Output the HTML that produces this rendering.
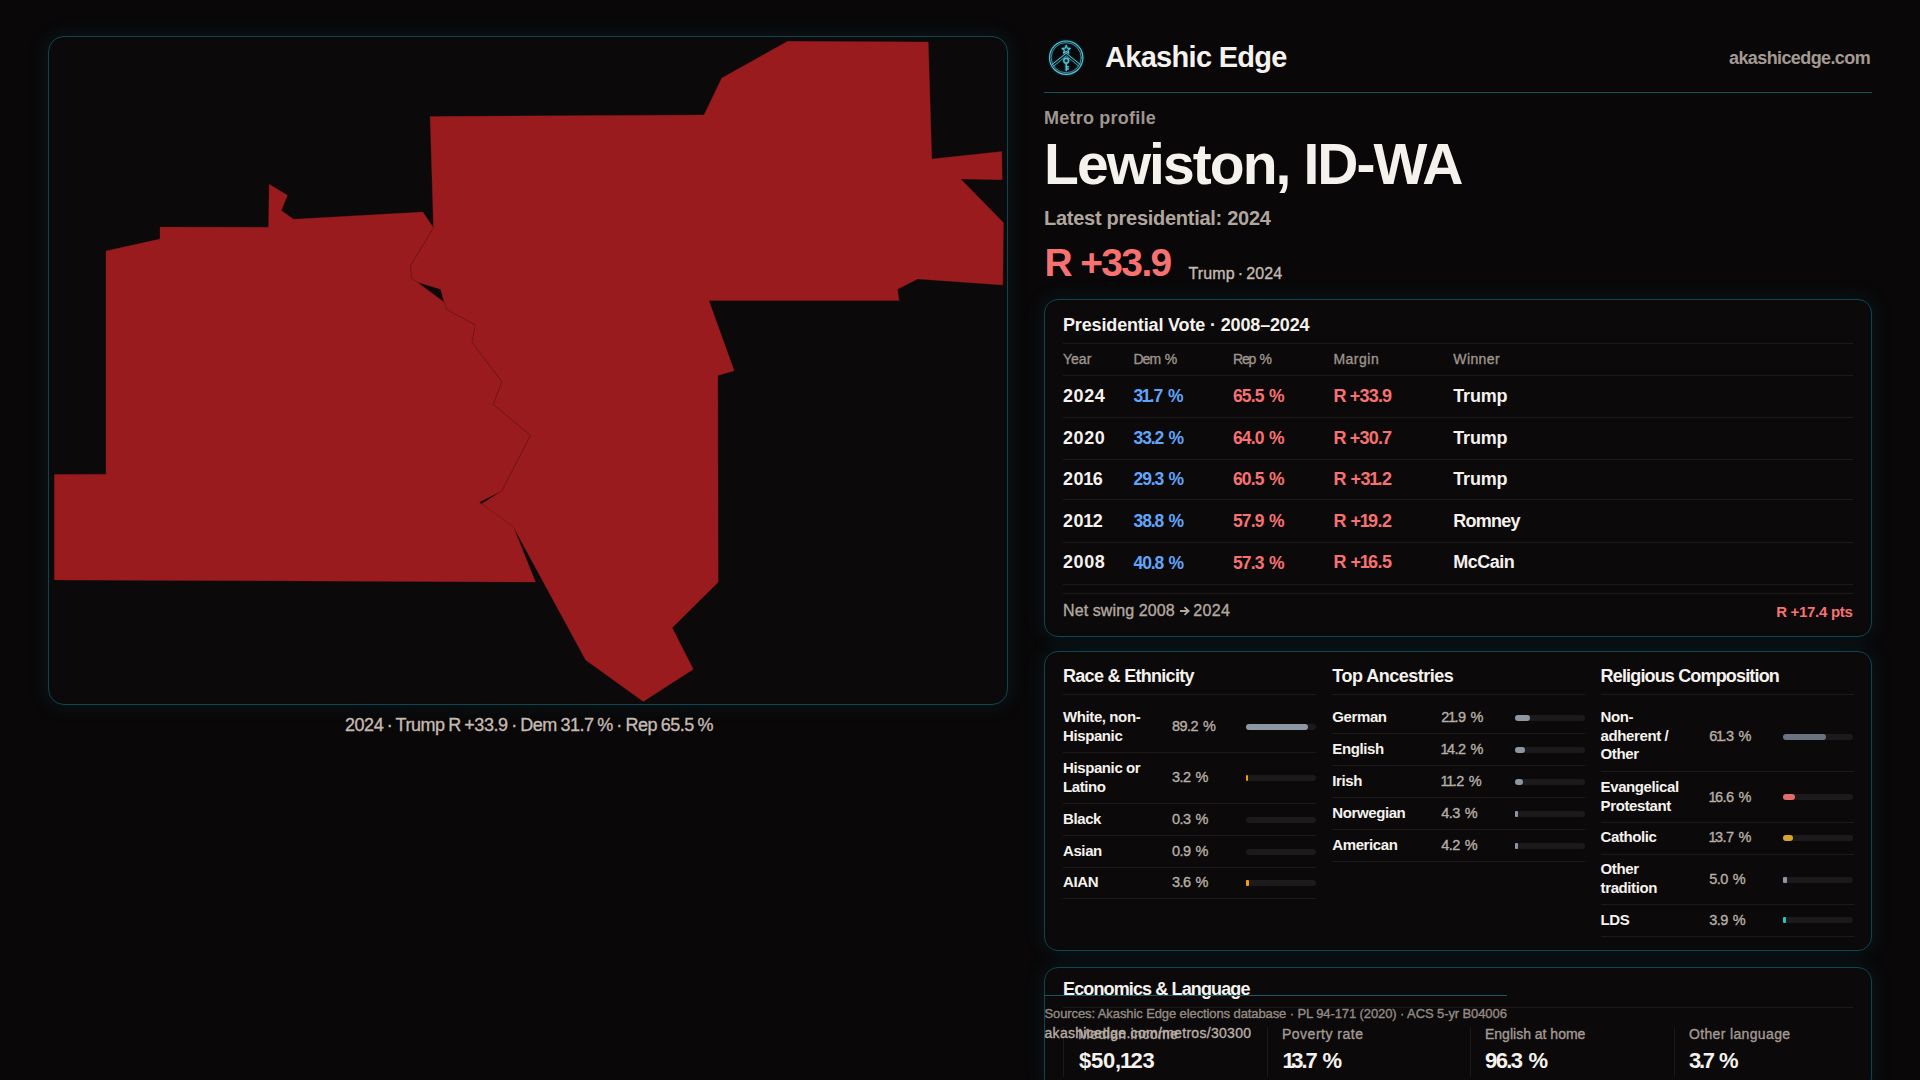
<!DOCTYPE html>
<html><head><meta charset="utf-8">
<style>
*{box-sizing:border-box;margin:0;padding:0}
html,body{width:1920px;height:1080px;overflow:hidden;background:#090708;font-family:"Liberation Sans",sans-serif;color:#f5f2ee}
.abs{position:absolute;white-space:nowrap;line-height:1}
.m{-webkit-text-stroke:0.35px currentColor}
.o{margin-left:-0.05em;margin-right:-0.07em}
.card{position:absolute;border:1px solid #0e4650;background:#0b090a;box-shadow:0 0 20px 3px rgba(30,150,175,0.10)}
</style></head><body>
<div class="card" style="left:48px;top:36px;width:960px;height:669px;border-radius:16px"></div>
<svg class="abs" style="left:0;top:0" width="1020" height="720" viewBox="0 0 1020 720">
<g fill="#991b1e" stroke="#991b1e" stroke-width="0.3">
<polygon points="106,251 160,239 160,227 268.5,227.2 269.2,184.2 287.5,195.3 281.3,210.6 293.5,219.2 422.8,212 433.5,227.8 410.6,265.6 411.4,277.8 444.2,302.2 446.7,309.4 475.3,325 471.9,342.2 501.8,381.5 493.3,404.5 530.5,435.3 501.7,491.1 479.3,502.2 513.3,526.7 535.5,582 54.4,580 54.4,474.4 106,474.2"/>
<polygon points="430.1,116.5 704,114.9 721.8,78 787.6,41.3 928.3,42 931.8,159 1001.8,151.5 1002.2,179.7 960.7,179.1 1003.5,222.8 1002.8,285 917.6,278.9 897.5,289.3 899.1,300.6 708.9,300.6 734.2,370.8 717.8,375.5 718.2,582.2 672.2,627.8 693.3,669.3 643.3,701.6 585.6,660 513.3,526.7 481.8,503.8 501.7,491.1 530.5,435.3 493.3,404.5 501.8,381.5 471.9,342.2 475.3,325 446.7,309.4 444.2,302.2 440.6,289.2 416.7,282 411.4,277.8 410.6,265.6 433.5,227.8"/>
</g>
<polyline fill="none" stroke="#5c1316" stroke-width="0.5" points="433.5,227.8 410.6,265.6 411.4,277.8 444.2,302.2 446.7,309.4 475.3,325 471.9,342.2 501.8,381.5 493.3,404.5 530.5,435.3 501.7,491.1"/>
</svg>
<div class="abs m" style="left:345px;top:716.46px;font-size:18px;color:#c4bab2;letter-spacing:-0.45px;word-spacing:-1px">2024 · Trump R +33.9 · Dem 31.7 % · Rep 65.5 %</div>
<svg class="abs" style="left:1046px;top:38px;filter:drop-shadow(0 0 1px rgba(70,190,220,0.45))" width="40" height="40" viewBox="0 0 40 40">
<g fill="none" stroke="#52c6de" stroke-linecap="round" stroke-linejoin="round">
<circle cx="20.2" cy="19.7" r="16.7" stroke-width="1.1"/>
<circle cx="20.2" cy="19.7" r="15.1" stroke-width="0.75" opacity="0.85"/>
<path d="M5.9 26.6 L20.2 15.2 L34.2 26.4" stroke-width="1.0"/>
<path d="M7.6 28.2 L20.2 17.9 L32.6 28.0" stroke-width="0.9" opacity="0.8"/>
<path d="M20.2 7.2 L21.3 10.2 L24.4 10.3 L22 12.2 L22.9 15.2 L20.2 13.5 L17.5 15.2 L18.4 12.2 L16 10.3 L19.1 10.2 Z" stroke-width="1.1"/>
<circle cx="20.2" cy="22.7" r="2.4" stroke-width="1.4"/>
<path d="M20.2 25.1 V32.6 M20.2 28.8 H22.3 M20.2 31 H22.3" stroke-width="1.4"/>
</g>
</svg>
<div class="abs" style="left:1105px;top:42.85px;font-size:29px;color:#f5f2ee;font-weight:700;letter-spacing:-0.7px">Akashic Edge</div>
<div class="abs" style="left:1729px;top:48.56px;font-size:18px;color:#a39a93;font-weight:700;letter-spacing:-0.6px">akashicedge.com</div>
<div class="abs" style="left:1044px;top:92px;width:828px;height:1px;background:#14525e"></div>
<div class="abs" style="left:1044px;top:108.96px;font-size:18px;color:#9f968f;font-weight:700;letter-spacing:0.22px">Metro profile</div>
<div class="abs" style="left:1044px;top:136.05px;font-size:57px;color:#f5f2ee;font-weight:700;letter-spacing:-1.93px">Lewiston, ID-WA</div>
<div class="abs" style="left:1044px;top:207.67px;font-size:20px;color:#b0a69e;font-weight:700;letter-spacing:-0.27px">Latest presidential: 2024</div>
<div class="abs" style="left:1044.5px;top:242.59px;font-size:39px;color:#f87171;font-weight:700;letter-spacing:-1.65px">R +33.9</div>
<div class="abs m" style="left:1188.5px;top:266.16px;font-size:16px;color:#c4bab2;letter-spacing:0.1px;word-spacing:-1.5px">Trump · 2024</div>
<div class="card" style="left:1044px;top:299px;width:828px;height:338px;border-radius:14px"></div>
<div class="abs" style="left:1063px;top:315.96px;font-size:18px;color:#f5f2ee;font-weight:700;letter-spacing:-0.15px">Presidential Vote · 2008–2024</div>
<div class="abs" style="left:1063px;top:343px;width:790px;height:1px;background:#1e1a1c"></div>
<div class="abs m" style="left:1063px;top:352.15px;font-size:14px;color:#9d948d;word-spacing:1.8px">Year</div>
<div class="abs m" style="left:1133.5px;top:352.15px;font-size:14px;color:#9d948d;letter-spacing:-1.0px;word-spacing:1.8px">Dem %</div>
<div class="abs m" style="left:1233px;top:352.15px;font-size:14px;color:#9d948d;letter-spacing:-1.2px;word-spacing:1.8px">Rep %</div>
<div class="abs m" style="left:1333.4px;top:352.15px;font-size:14px;color:#9d948d;letter-spacing:0.5px;word-spacing:1.8px">Margin</div>
<div class="abs m" style="left:1453.3px;top:352.15px;font-size:14px;color:#9d948d;letter-spacing:0.4px;word-spacing:1.8px">Winner</div>
<div class="abs" style="left:1063px;top:375px;width:790px;height:1px;background:#1e1a1c"></div>
<div class="abs" style="left:1063px;top:386.76px;font-size:18px;color:#f5f2ee;font-weight:700;letter-spacing:0.6px">2024</div>
<div class="abs" style="left:1133.5px;top:387.99px;font-size:17.5px;color:#60a5fa;font-weight:700;letter-spacing:-0.75px;word-spacing:1.5px">3<span class="o">1</span>.7 %</div>
<div class="abs" style="left:1233px;top:387.99px;font-size:17.5px;color:#f87171;font-weight:700;letter-spacing:-0.9px;word-spacing:1.5px">65.5 %</div>
<div class="abs" style="left:1333.4px;top:386.76px;font-size:18px;color:#f87171;font-weight:700;letter-spacing:-0.8px">R +33.9</div>
<div class="abs" style="left:1453.3px;top:386.76px;font-size:18px;color:#f5f2ee;font-weight:700;letter-spacing:-0.2px">Trump</div>
<div class="abs" style="left:1063px;top:417px;width:790px;height:1px;background:#1e1a1c"></div>
<div class="abs" style="left:1063px;top:428.76px;font-size:18px;color:#f5f2ee;font-weight:700;letter-spacing:0.6px">2020</div>
<div class="abs" style="left:1133.5px;top:429.99px;font-size:17.5px;color:#60a5fa;font-weight:700;letter-spacing:-1.1px;word-spacing:1.5px">33.2 %</div>
<div class="abs" style="left:1233px;top:429.99px;font-size:17.5px;color:#f87171;font-weight:700;letter-spacing:-0.9px;word-spacing:1.5px">64.0 %</div>
<div class="abs" style="left:1333.4px;top:428.76px;font-size:18px;color:#f87171;font-weight:700;letter-spacing:-0.8px">R +30.7</div>
<div class="abs" style="left:1453.3px;top:428.76px;font-size:18px;color:#f5f2ee;font-weight:700;letter-spacing:-0.2px">Trump</div>
<div class="abs" style="left:1063px;top:459px;width:790px;height:1px;background:#1e1a1c"></div>
<div class="abs" style="left:1063px;top:469.76px;font-size:18px;color:#f5f2ee;font-weight:700;letter-spacing:0.6px">20<span class="o">1</span>6</div>
<div class="abs" style="left:1133.5px;top:470.99px;font-size:17.5px;color:#60a5fa;font-weight:700;letter-spacing:-1.1px;word-spacing:1.5px">29.3 %</div>
<div class="abs" style="left:1233px;top:470.99px;font-size:17.5px;color:#f87171;font-weight:700;letter-spacing:-0.9px;word-spacing:1.5px">60.5 %</div>
<div class="abs" style="left:1333.4px;top:469.76px;font-size:18px;color:#f87171;font-weight:700;letter-spacing:-0.45px">R +3<span class="o">1</span>.2</div>
<div class="abs" style="left:1453.3px;top:469.76px;font-size:18px;color:#f5f2ee;font-weight:700;letter-spacing:-0.2px">Trump</div>
<div class="abs" style="left:1063px;top:499px;width:790px;height:1px;background:#1e1a1c"></div>
<div class="abs" style="left:1063px;top:511.76px;font-size:18px;color:#f5f2ee;font-weight:700;letter-spacing:0.6px">20<span class="o">1</span>2</div>
<div class="abs" style="left:1133.5px;top:512.99px;font-size:17.5px;color:#60a5fa;font-weight:700;letter-spacing:-1.1px;word-spacing:1.5px">38.8 %</div>
<div class="abs" style="left:1233px;top:512.99px;font-size:17.5px;color:#f87171;font-weight:700;letter-spacing:-0.9px;word-spacing:1.5px">57.9 %</div>
<div class="abs" style="left:1333.4px;top:511.76px;font-size:18px;color:#f87171;font-weight:700;letter-spacing:-0.45px">R +<span class="o">1</span>9.2</div>
<div class="abs" style="left:1453.3px;top:511.76px;font-size:18px;color:#f5f2ee;font-weight:700;letter-spacing:-0.75px">Romney</div>
<div class="abs" style="left:1063px;top:542px;width:790px;height:1px;background:#1e1a1c"></div>
<div class="abs" style="left:1063px;top:553.36px;font-size:18px;color:#f5f2ee;font-weight:700;letter-spacing:0.6px">2008</div>
<div class="abs" style="left:1133.5px;top:554.59px;font-size:17.5px;color:#60a5fa;font-weight:700;letter-spacing:-1.1px;word-spacing:1.5px">40.8 %</div>
<div class="abs" style="left:1233px;top:554.59px;font-size:17.5px;color:#f87171;font-weight:700;letter-spacing:-0.9px;word-spacing:1.5px">57.3 %</div>
<div class="abs" style="left:1333.4px;top:553.36px;font-size:18px;color:#f87171;font-weight:700;letter-spacing:-0.45px">R +<span class="o">1</span>6.5</div>
<div class="abs" style="left:1453.3px;top:553.36px;font-size:18px;color:#f5f2ee;font-weight:700;letter-spacing:-0.5px">McCain</div>
<div class="abs" style="left:1063px;top:584px;width:790px;height:1px;background:#1e1a1c"></div>
<div class="abs" style="left:1063px;top:593px;width:790px;height:1px;background:#1e1a1c"></div>
<div class="abs" style="left:1063px;top:603.06px;font-size:16px;color:#b3a9a1;-webkit-text-stroke:0.35px #b3a9a1;letter-spacing:0.1px">Net swing 2008</div>
<svg class="abs" style="left:1179px;top:605px" width="12" height="12" viewBox="0 0 12 12"><path d="M1 6 H9 M5.5 2.2 L9.6 6 L5.5 9.8" fill="none" stroke="#b3a9a1" stroke-width="1.8" stroke-linejoin="miter"/></svg>
<div class="abs m" style="left:1193.3px;top:603.06px;font-size:16px;color:#b3a9a1;letter-spacing:0.35px">2024</div>
<div class="abs" style="right:67.5px;top:604.3px;font-size:15px;font-weight:700;color:#f87171;letter-spacing:-0.3px">R +17.4 pts</div>
<div class="card" style="left:1044px;top:651px;width:828px;height:300px;border-radius:14px"></div>
<div class="abs" style="left:1063px;top:667.36px;font-size:18px;color:#f5f2ee;font-weight:700;letter-spacing:-0.7px">Race &amp; Ethnicity</div>
<div class="abs" style="left:1063px;top:694px;width:253px;height:1px;background:#1e1a1c"></div>
<div class="abs" style="left:1332.3px;top:667.36px;font-size:18px;color:#f5f2ee;font-weight:700;letter-spacing:-0.5px">Top Ancestries</div>
<div class="abs" style="left:1332.3px;top:694px;width:253.0px;height:1px;background:#1e1a1c"></div>
<div class="abs" style="left:1600.6px;top:667.36px;font-size:18px;color:#f5f2ee;font-weight:700;letter-spacing:-0.84px">Religious Composition</div>
<div class="abs" style="left:1600.6px;top:694px;width:253.0px;height:1px;background:#1e1a1c"></div>
<div class="abs" style="left:1063px;top:709.4px;font-size:15px;color:#f5f2ee;font-weight:700;letter-spacing:-0.4px">White, non-</div>
<div class="abs" style="left:1063px;top:727.6px;font-size:15px;color:#f5f2ee;font-weight:700;letter-spacing:-0.4px">Hispanic</div>
<div class="abs m" style="left:1172px;top:719.43px;font-size:14.5px;color:#b8aea6;letter-spacing:-0.55px;word-spacing:1.5px">89.2 %</div>
<div class="abs" style="left:1246px;top:724.2px;width:70px;height:6px;border-radius:3px;background:#1c1a1c"></div>
<div class="abs" style="left:1246px;top:724.2px;width:62.4px;height:6px;border-radius:3px;background:#8d96a3"></div>
<div class="abs" style="left:1063px;top:752px;width:253px;height:1px;background:#1e1a1c"></div>
<div class="abs" style="left:1063px;top:760.3px;font-size:15px;color:#f5f2ee;font-weight:700;letter-spacing:-0.4px">Hispanic or</div>
<div class="abs" style="left:1063px;top:778.5px;font-size:15px;color:#f5f2ee;font-weight:700;letter-spacing:-0.4px">Latino</div>
<div class="abs m" style="left:1172px;top:770.43px;font-size:14.5px;color:#b8aea6;letter-spacing:-0.55px;word-spacing:1.5px">3.2 %</div>
<div class="abs" style="left:1246px;top:775.2px;width:70px;height:6px;border-radius:3px;background:#1c1a1c"></div>
<div class="abs" style="left:1246px;top:775.2px;width:2.2px;height:6px;border-radius:1px;background:#f59e0b"></div>
<div class="abs" style="left:1063px;top:803px;width:253px;height:1px;background:#1e1a1c"></div>
<div class="abs" style="left:1063px;top:810.9px;font-size:15px;color:#f5f2ee;font-weight:700;letter-spacing:-0.4px">Black</div>
<div class="abs m" style="left:1172px;top:812.03px;font-size:14.5px;color:#b8aea6;letter-spacing:-0.55px;word-spacing:1.5px">0.3 %</div>
<div class="abs" style="left:1246px;top:816.8px;width:70px;height:6px;border-radius:3px;background:#1c1a1c"></div>
<div class="abs" style="left:1063px;top:835px;width:253px;height:1px;background:#1e1a1c"></div>
<div class="abs" style="left:1063px;top:842.9px;font-size:15px;color:#f5f2ee;font-weight:700;letter-spacing:-0.4px">Asian</div>
<div class="abs m" style="left:1172px;top:844.03px;font-size:14.5px;color:#b8aea6;letter-spacing:-0.55px;word-spacing:1.5px">0.9 %</div>
<div class="abs" style="left:1246px;top:848.8px;width:70px;height:6px;border-radius:3px;background:#1c1a1c"></div>
<div class="abs" style="left:1063px;top:867px;width:253px;height:1px;background:#1e1a1c"></div>
<div class="abs" style="left:1063px;top:874.0px;font-size:15px;color:#f5f2ee;font-weight:700;letter-spacing:-0.4px">AIAN</div>
<div class="abs m" style="left:1172px;top:875.13px;font-size:14.5px;color:#b8aea6;letter-spacing:-0.55px;word-spacing:1.5px">3.6 %</div>
<div class="abs" style="left:1246px;top:879.9px;width:70px;height:6px;border-radius:3px;background:#1c1a1c"></div>
<div class="abs" style="left:1246px;top:879.9px;width:2.5px;height:6px;border-radius:1px;background:#f59e0b"></div>
<div class="abs" style="left:1063px;top:898px;width:253px;height:1px;background:#1e1a1c"></div>
<div class="abs" style="left:1332.3px;top:709.0px;font-size:15px;color:#f5f2ee;font-weight:700;letter-spacing:-0.4px">German</div>
<div class="abs m" style="left:1441.2px;top:710.13px;font-size:14.5px;color:#b8aea6;letter-spacing:-0.55px;word-spacing:1.5px">2<span class="o">1</span>.9 %</div>
<div class="abs" style="left:1515px;top:714.9px;width:70px;height:6px;border-radius:3px;background:#1c1a1c"></div>
<div class="abs" style="left:1515px;top:714.9px;width:15.3px;height:6px;border-radius:3px;background:#8d96a3"></div>
<div class="abs" style="left:1332.3px;top:733px;width:253.0px;height:1px;background:#1e1a1c"></div>
<div class="abs" style="left:1332.3px;top:741.1px;font-size:15px;color:#f5f2ee;font-weight:700;letter-spacing:-0.4px">English</div>
<div class="abs m" style="left:1441.2px;top:742.23px;font-size:14.5px;color:#b8aea6;letter-spacing:-0.55px;word-spacing:1.5px"><span class="o">1</span>4.2 %</div>
<div class="abs" style="left:1515px;top:747.0px;width:70px;height:6px;border-radius:3px;background:#1c1a1c"></div>
<div class="abs" style="left:1515px;top:747.0px;width:9.9px;height:6px;border-radius:3px;background:#8d96a3"></div>
<div class="abs" style="left:1332.3px;top:765px;width:253.0px;height:1px;background:#1e1a1c"></div>
<div class="abs" style="left:1332.3px;top:772.7px;font-size:15px;color:#f5f2ee;font-weight:700;letter-spacing:-0.4px">Irish</div>
<div class="abs m" style="left:1441.2px;top:773.83px;font-size:14.5px;color:#b8aea6;letter-spacing:-0.55px;word-spacing:1.5px"><span class="o">1</span><span class="o">1</span>.2 %</div>
<div class="abs" style="left:1515px;top:778.6px;width:70px;height:6px;border-radius:3px;background:#1c1a1c"></div>
<div class="abs" style="left:1515px;top:778.6px;width:7.8px;height:6px;border-radius:3px;background:#8d96a3"></div>
<div class="abs" style="left:1332.3px;top:797px;width:253.0px;height:1px;background:#1e1a1c"></div>
<div class="abs" style="left:1332.3px;top:805.3px;font-size:15px;color:#f5f2ee;font-weight:700;letter-spacing:-0.4px">Norwegian</div>
<div class="abs m" style="left:1441.2px;top:806.43px;font-size:14.5px;color:#b8aea6;letter-spacing:-0.55px;word-spacing:1.5px">4.3 %</div>
<div class="abs" style="left:1515px;top:811.2px;width:70px;height:6px;border-radius:3px;background:#1c1a1c"></div>
<div class="abs" style="left:1515px;top:811.2px;width:3.0px;height:6px;border-radius:1px;background:#8d96a3"></div>
<div class="abs" style="left:1332.3px;top:829px;width:253.0px;height:1px;background:#1e1a1c"></div>
<div class="abs" style="left:1332.3px;top:836.8px;font-size:15px;color:#f5f2ee;font-weight:700;letter-spacing:-0.4px">American</div>
<div class="abs m" style="left:1441.2px;top:837.93px;font-size:14.5px;color:#b8aea6;letter-spacing:-0.55px;word-spacing:1.5px">4.2 %</div>
<div class="abs" style="left:1515px;top:842.7px;width:70px;height:6px;border-radius:3px;background:#1c1a1c"></div>
<div class="abs" style="left:1515px;top:842.7px;width:2.9px;height:6px;border-radius:1px;background:#8d96a3"></div>
<div class="abs" style="left:1332.3px;top:861px;width:253.0px;height:1px;background:#1e1a1c"></div>
<div class="abs" style="left:1600.6px;top:709.1px;font-size:15px;color:#f5f2ee;font-weight:700;letter-spacing:-0.4px">Non-</div>
<div class="abs" style="left:1600.6px;top:727.7px;font-size:15px;color:#f5f2ee;font-weight:700;letter-spacing:-0.4px">adherent /</div>
<div class="abs" style="left:1600.6px;top:746.4px;font-size:15px;color:#f5f2ee;font-weight:700;letter-spacing:-0.4px">Other</div>
<div class="abs m" style="left:1709.2px;top:728.83px;font-size:14.5px;color:#b8aea6;letter-spacing:-0.55px;word-spacing:1.5px">6<span class="o">1</span>.3 %</div>
<div class="abs" style="left:1783px;top:733.6px;width:70px;height:6px;border-radius:3px;background:#1c1a1c"></div>
<div class="abs" style="left:1783px;top:733.6px;width:42.9px;height:6px;border-radius:3px;background:#6b7280"></div>
<div class="abs" style="left:1600.6px;top:771px;width:253.0px;height:1px;background:#1e1a1c"></div>
<div class="abs" style="left:1600.6px;top:779.4px;font-size:15px;color:#f5f2ee;font-weight:700;letter-spacing:-0.4px">Evangelical</div>
<div class="abs" style="left:1600.6px;top:797.5px;font-size:15px;color:#f5f2ee;font-weight:700;letter-spacing:-0.4px">Protestant</div>
<div class="abs m" style="left:1709.2px;top:789.63px;font-size:14.5px;color:#b8aea6;letter-spacing:-0.55px;word-spacing:1.5px"><span class="o">1</span>6.6 %</div>
<div class="abs" style="left:1783px;top:794.4px;width:70px;height:6px;border-radius:3px;background:#1c1a1c"></div>
<div class="abs" style="left:1783px;top:794.4px;width:11.6px;height:6px;border-radius:3px;background:#e06c6c"></div>
<div class="abs" style="left:1600.6px;top:822px;width:253.0px;height:1px;background:#1e1a1c"></div>
<div class="abs" style="left:1600.6px;top:829.1px;font-size:15px;color:#f5f2ee;font-weight:700;letter-spacing:-0.4px">Catholic</div>
<div class="abs m" style="left:1709.2px;top:830.23px;font-size:14.5px;color:#b8aea6;letter-spacing:-0.55px;word-spacing:1.5px"><span class="o">1</span>3.7 %</div>
<div class="abs" style="left:1783px;top:835.0px;width:70px;height:6px;border-radius:3px;background:#1c1a1c"></div>
<div class="abs" style="left:1783px;top:835.0px;width:9.6px;height:6px;border-radius:3px;background:#d9a52b"></div>
<div class="abs" style="left:1600.6px;top:854px;width:253.0px;height:1px;background:#1e1a1c"></div>
<div class="abs" style="left:1600.6px;top:861.3px;font-size:15px;color:#f5f2ee;font-weight:700;letter-spacing:-0.4px">Other</div>
<div class="abs" style="left:1600.6px;top:879.9px;font-size:15px;color:#f5f2ee;font-weight:700;letter-spacing:-0.4px">tradition</div>
<div class="abs m" style="left:1709.2px;top:871.73px;font-size:14.5px;color:#b8aea6;letter-spacing:-0.55px;word-spacing:1.5px">5.0 %</div>
<div class="abs" style="left:1783px;top:876.5px;width:70px;height:6px;border-radius:3px;background:#1c1a1c"></div>
<div class="abs" style="left:1783px;top:876.5px;width:3.5px;height:6px;border-radius:1px;background:#8d96a3"></div>
<div class="abs" style="left:1600.6px;top:904px;width:253.0px;height:1px;background:#1e1a1c"></div>
<div class="abs" style="left:1600.6px;top:911.5px;font-size:15px;color:#f5f2ee;font-weight:700;letter-spacing:-0.4px">LDS</div>
<div class="abs m" style="left:1709.2px;top:912.63px;font-size:14.5px;color:#b8aea6;letter-spacing:-0.55px;word-spacing:1.5px">3.9 %</div>
<div class="abs" style="left:1783px;top:917.4px;width:70px;height:6px;border-radius:3px;background:#1c1a1c"></div>
<div class="abs" style="left:1783px;top:917.4px;width:2.7px;height:6px;border-radius:1px;background:#2cc4b4"></div>
<div class="abs" style="left:1600.6px;top:936px;width:253.0px;height:1px;background:#1e1a1c"></div>
<div class="card" style="left:1044px;top:967px;width:828px;height:125px;border-radius:14px"></div>
<div class="abs" style="left:1063px;top:979.76px;font-size:18px;color:#f5f2ee;font-weight:700;letter-spacing:-0.87px">Economics &amp; Language</div>
<div class="abs" style="left:1063px;top:1007px;width:790px;height:1px;background:#1e1a1c"></div>
<div class="abs" style="left:1063px;top:1027px;width:1px;height:50px;background:#1e1a1c"></div>
<div class="abs m" style="left:1078px;top:1027.35px;font-size:14px;color:#a39a93;letter-spacing:0.4px">Median income</div>
<div class="abs" style="left:1079px;top:1049.98px;font-size:22px;color:#f5f2ee;font-weight:700;letter-spacing:-0.2px">$50,<span class="o">1</span>23</div>
<div class="abs" style="left:1267px;top:1027px;width:1px;height:50px;background:#1e1a1c"></div>
<div class="abs m" style="left:1282px;top:1027.35px;font-size:14px;color:#a39a93;letter-spacing:0.5px">Poverty rate</div>
<div class="abs" style="left:1283.5px;top:1049.98px;font-size:22px;color:#f5f2ee;font-weight:700;letter-spacing:-1.95px;word-spacing:2.5px"><span class="o">1</span>3.7 %</div>
<div class="abs" style="left:1470px;top:1027px;width:1px;height:50px;background:#1e1a1c"></div>
<div class="abs m" style="left:1485px;top:1027.35px;font-size:14px;color:#a39a93">English at home</div>
<div class="abs" style="left:1485px;top:1049.98px;font-size:22px;color:#f5f2ee;font-weight:700;letter-spacing:-1.6px;word-spacing:2.5px">96.3 %</div>
<div class="abs" style="left:1674px;top:1027px;width:1px;height:50px;background:#1e1a1c"></div>
<div class="abs m" style="left:1689px;top:1027.35px;font-size:14px;color:#a39a93;letter-spacing:0.35px">Other language</div>
<div class="abs" style="left:1689px;top:1049.98px;font-size:22px;color:#f5f2ee;font-weight:700;letter-spacing:-2.3px;word-spacing:2.5px">3.7 %</div>
<div class="abs" style="left:1044px;top:995px;width:463px;height:1px;background:#155566"></div>
<div class="abs m" style="left:1044.5px;top:1006.8px;font-size:13px;color:#958b84;letter-spacing:-0.1px">Sources: Akashic Edge elections database · PL 94-171 (2020) · ACS 5-yr B04006</div>
<div class="abs m" style="left:1044.5px;top:1026.35px;font-size:14px;color:#b8aea6;letter-spacing:0.3px">akashicedge.com/metros/30300</div>
</body></html>
